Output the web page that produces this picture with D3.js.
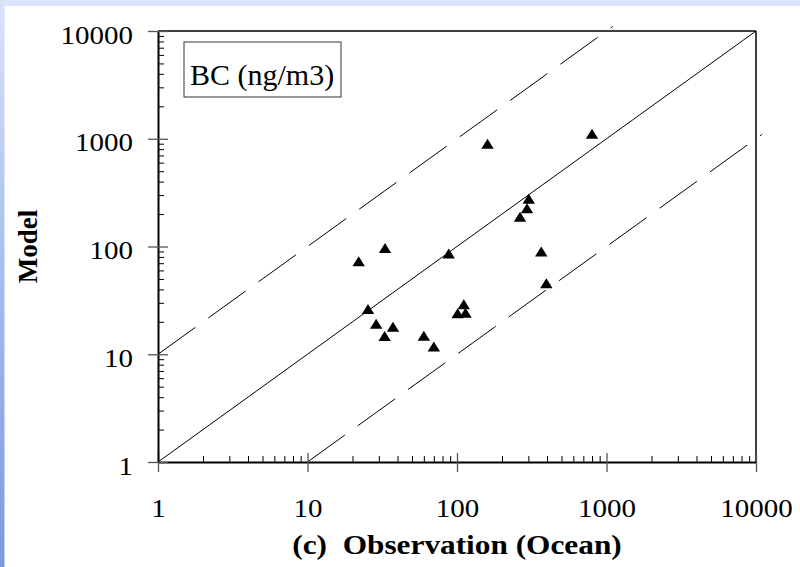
<!DOCTYPE html>
<html>
<head>
<meta charset="utf-8">
<script src="https://cdn.jsdelivr.net/npm/d3@7/dist/d3.min.js"></script>
<style>
  body { margin: 0; background: #fff; }
  svg { display: block; font-family: "Liberation Serif", "Times New Roman", serif; }
</style>
</head>
<body>
<svg id="chart" width="800" height="567"></svg>
<script>
// data: observation (ocean) vs model, BC in ng/m3
const obs   = [160, 800, 302, 294, 264, 366, 396, 88, 33, 22, 25.4, 28.8, 37.3, 32.8, 60, 70, 111, 101, 114];
const model = [888, 1100, 274, 224, 187, 89, 45, 85, 96, 72, 26, 19, 17.8, 14.6, 14.7, 11.7, 28.8, 23.8, 24];
const majorTicks = [1, 10, 100, 1000, 10000];
const minorTicks = [];
for (let d = 1; d < 10000; d *= 10) {
    for (let k = 2; k <= 9; k++) minorTicks.push(d * k);
}
const legendText = 'BC (ng/m3)';
const xTitle = '(c)\u00a0\u00a0Observation (Ocean)';
const yTitle = 'Model';

// layout
const margin = {left: 158, top: 31, right: 44, bottom: 105};
const W = 800, H = 567;
const plotW = W - margin.left - margin.right;
const plotH = H - margin.top - margin.bottom;
const stretch = 1.16; // text in the source is a bit wide

const svg = d3.select('#chart');

// background: white with a thin blue border strip at top and left
const defs = svg.append('defs');
const grad = defs.append('linearGradient')
    .attr('id', 'edge').attr('x1', 0).attr('y1', 0).attr('x2', 0).attr('y2', 1);
grad.append('stop').attr('offset', '0%').attr('stop-color', '#d9e3fa');
grad.append('stop').attr('offset', '45%').attr('stop-color', '#a9bfee');
grad.append('stop').attr('offset', '100%').attr('stop-color', '#7b9ade');

svg.append('rect').attr('width', W).attr('height', H).attr('fill', '#fff');
svg.append('rect').attr('width', W).attr('height', 6).attr('fill', '#dbe5fb');
svg.append('rect').attr('width', 4.5).attr('height', H).attr('fill', 'url(#edge)');

const g = svg.append('g').attr('transform', 'translate(' + margin.left + ',' + margin.top + ')');

// scales
const x = d3.scaleLog().domain([1, 10000]).range([0, plotW]);
const y = d3.scaleLog().domain([1, 10000]).range([plotH, 0]);

// reference lines 1:1, 10:1, 1:10 (dashed ones run a little past the frame)
const line = d3.line().x(function(d) {return x(d[0])}).y(function(d) {return y(d[1])});
g.append('path')
    .attr('d', line([[1, 1], [10000, 10000]]))
    .attr('stroke', '#000').attr('stroke-width', 1).attr('fill', 'none');
g.append('path')
    .attr('d', line([[1, 10], [1100, 11000]]))
    .attr('stroke', '#000').attr('stroke-width', 1).attr('fill', 'none')
    .attr('stroke-dasharray', '46 16');
g.append('path')
    .attr('d', line([[10, 1], [11000, 1100]]))
    .attr('stroke', '#000').attr('stroke-width', 1).attr('fill', 'none')
    .attr('stroke-dasharray', '46 16');

// frame top and right
g.append('line').attr('x1', 0).attr('x2', plotW).attr('y1', 0).attr('y2', 0)
    .attr('stroke', '#000').attr('stroke-width', 1.5);
g.append('line').attr('x1', plotW).attr('x2', plotW).attr('y1', 0).attr('y2', plotH)
    .attr('stroke', '#000').attr('stroke-width', 1.5);

// minor ticks, inside only
g.append('g')
    .attr('transform', 'translate(0,' + plotH + ')')
    .call(d3.axisBottom(x).tickValues(minorTicks).tickSizeInner(-6).tickSizeOuter(0).tickFormat(''))
    .call(function(a) {a.select('.domain').remove()})
    .selectAll('line').attr('stroke', '#000');
g.append('g')
    .call(d3.axisLeft(y).tickValues(minorTicks).tickSizeInner(-6).tickSizeOuter(0).tickFormat(''))
    .call(function(a) {a.select('.domain').remove()})
    .selectAll('line').attr('stroke', '#000');

// major ticks crossing the axis, with labels
const xAxis = g.append('g')
    .attr('transform', 'translate(0,' + plotH + ')')
    .call(d3.axisBottom(x).tickValues(majorTicks).tickSizeOuter(0).tickFormat(d3.format('d')))
    .attr('font-family', null).attr('font-size', null);
xAxis.selectAll('.tick line').attr('y1', -9).attr('y2', 10).attr('stroke', '#555').attr('stroke-width', 1.3);
xAxis.selectAll('.tick text')
    .attr('y', null).attr('dy', null)
    .attr('transform', 'translate(0,55) scale(' + stretch + ',1)')
    .attr('font-size', 25).attr('fill', '#000');
xAxis.select('.domain').attr('stroke', '#000').attr('stroke-width', 2);

const yAxis = g.append('g')
    .call(d3.axisLeft(y).tickValues(majorTicks).tickSizeOuter(0).tickFormat(d3.format('d')))
    .attr('font-family', null).attr('font-size', null);
yAxis.selectAll('.tick line').attr('x1', -10).attr('x2', 10).attr('stroke', '#555').attr('stroke-width', 1.3);
yAxis.selectAll('.tick text')
    .attr('x', null).attr('dy', null)
    .attr('transform', 'translate(-25,12) scale(' + stretch + ',1)')
    .attr('text-anchor', 'end')
    .attr('font-size', 25).attr('fill', '#000');
yAxis.select('.domain').attr('stroke', '#000').attr('stroke-width', 2);

// data points: filled triangles
const tri = 'M0,-5.5L6.2,4.5L-6.2,4.5Z';
g.append('g').selectAll('path').data(obs).enter()
    .append('path')
    .attr('d', tri)
    .attr('transform', function(d, i) {return 'translate(' + x(d) + ',' + y(model[i]) + ')'})
    .attr('fill', '#000');

// legend box
const lg = g.append('g').attr('transform', 'translate(26,11)');
lg.append('rect')
    .attr('width', 157).attr('height', 55)
    .attr('fill', '#fff').attr('stroke', '#333').attr('stroke-width', 1);
lg.append('text')
    .attr('x', 6).attr('y', 43)
    .attr('font-size', 30)
    .text(legendText);

// axis titles
svg.append('text')
    .attr('transform', 'translate(' + (margin.left + plotW / 2) + ',554) scale(' + stretch + ',1)')
    .attr('text-anchor', 'middle')
    .attr('font-size', 27).attr('font-weight', 'bold')
    .text(xTitle);
svg.append('text')
    .attr('transform', 'translate(37,' + (margin.top + plotH / 2) + ') rotate(-90)')
    .attr('text-anchor', 'middle')
    .attr('font-size', 27).attr('font-weight', 'bold')
    .text(yTitle);
</script>
</body>
</html>
